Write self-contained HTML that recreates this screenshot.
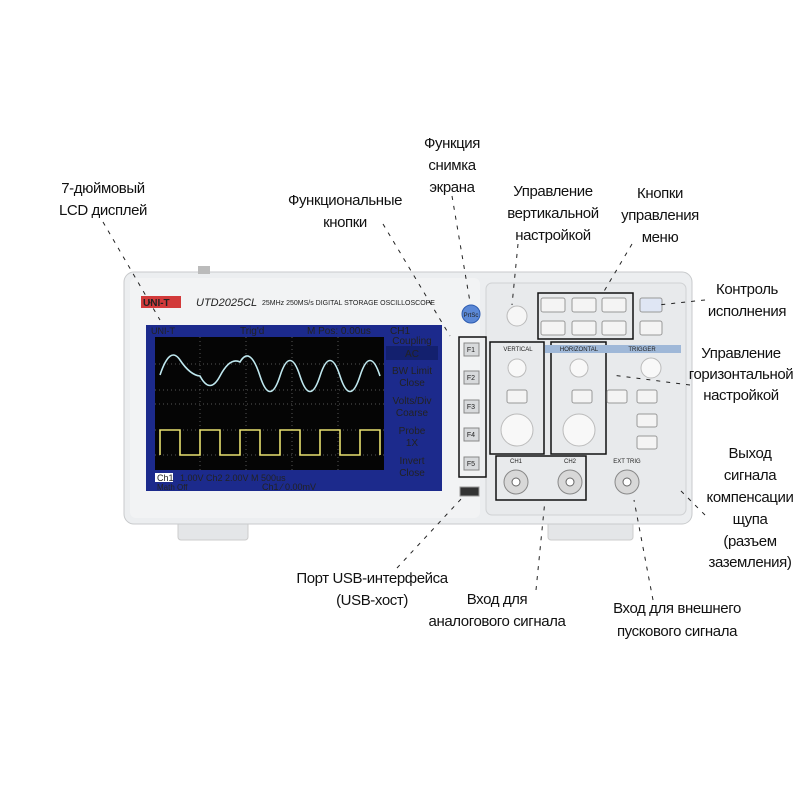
<!DOCTYPE html>
<html><head><meta charset="utf-8"><style>
html,body{margin:0;padding:0;background:#fff}
svg{display:block}
.l{font-family:"Liberation Sans Narrow","Liberation Sans",sans-serif;font-size:15px;letter-spacing:-0.4px;fill:#111;text-anchor:middle}
.s{font-family:"Liberation Sans",sans-serif;fill:#222}
</style></head><body>
<svg width="800" height="800" viewBox="0 0 800 800" xmlns="http://www.w3.org/2000/svg">
<rect x="178" y="518" width="70" height="22" rx="3" fill="#e4e6e8" stroke="#ccc"/>
<rect x="548" y="518" width="85" height="22" rx="3" fill="#e4e6e8" stroke="#ccc"/>
<rect x="124" y="272" width="568" height="252" rx="10" fill="#eceef0" stroke="#c8cacc"/>
<rect x="130" y="278" width="350" height="240" rx="6" fill="#f2f3f4"/>
<rect x="486" y="283" width="200" height="232" rx="6" fill="#e8eaec" stroke="#cfd1d3"/>
<rect x="198" y="266" width="12" height="8" fill="#bbb"/>
<rect x="141" y="296" width="40" height="12" fill="#d23a3a"/>
<text x="143" y="306" class="s" font-size="10" font-weight="bold" fill="#fff">UNI-T</text>
<text x="196" y="306" class="s" font-size="11" font-style="italic">UTD2025CL</text>
<text x="262" y="305" class="s" font-size="7">25MHz  250MS/s   DIGITAL STORAGE OSCILLOSCOPE</text>
<rect x="146" y="325" width="296" height="166" fill="#1c2a8c"/>
<rect x="155" y="337" width="229" height="133" fill="#050505"/>
<g stroke="#555" stroke-dasharray="1 3" stroke-width="1">
<line x1="155" y1="364" x2="384" y2="364"/><line x1="155" y1="390" x2="384" y2="390"/><line x1="155" y1="404" x2="384" y2="404"/><line x1="155" y1="430" x2="384" y2="430"/><line x1="155" y1="455" x2="384" y2="455"/>
<line x1="200" y1="337" x2="200" y2="470"/><line x1="246" y1="337" x2="246" y2="470"/><line x1="292" y1="337" x2="292" y2="470"/><line x1="338" y1="337" x2="338" y2="470"/>
</g>
<path d="M160,375 Q170,345 180,360 T200,376 Q210,395 220,376 T240,362 Q250,345 260,376 T280,376 Q290,345 300,376 T320,376 Q330,345 340,376 T360,376 Q370,345 380,376" fill="none" stroke="#bfe8ef" stroke-width="1.6"/>
<path d="M160,455 V430 H180 V455 H200 V430 H220 V455 H240 V430 H260 V455 H280 V430 H300 V455 H320 V430 H340 V455 H360 V430 H380 V455" fill="none" stroke="#e8e070" stroke-width="1.6"/>
<text x="151" y="334" class="s" font-size="9" fill="#e33">UNI-T</text>
<text x="240" y="334" class="s" font-size="10" fill="#ddd">Trig'd</text>
<text x="307" y="334" class="s" font-size="10" fill="#fff">M Pos: 0.00us</text>
<text x="390" y="334" class="s" font-size="10" fill="#fff">CH1</text>
<g font-size="10" class="s" fill="#fff" text-anchor="middle">
<rect x="386" y="346" width="52" height="14" fill="#13206e"/>
<text x="412" y="344">Coupling</text><text x="412" y="357">AC</text>
<text x="412" y="374">BW  Limit</text><text x="412" y="386">Close</text>
<text x="412" y="404">Volts/Div</text><text x="412" y="416">Coarse</text>
<text x="412" y="434">Probe</text><text x="412" y="446">1X</text>
<text x="412" y="464">Invert</text><text x="412" y="476">Close</text>
</g>
<rect x="155" y="473" width="18" height="9" fill="#fff"/>
<text x="157" y="481" class="s" font-size="9" fill="#1c2a8c">Ch1</text>
<text x="180" y="481" class="s" font-size="9" fill="#fff">1.00V   Ch2  2.00V    M 500us</text>
<text x="157" y="490" class="s" font-size="8" fill="#e33">Math  Off</text>
<text x="262" y="490" class="s" font-size="9" fill="#fff">Ch1  ⁄  0.00mV</text>
<circle cx="471" cy="314" r="9" fill="#5b88d6" stroke="#2e5cb0"/>
<text x="471" y="317" class="s" font-size="6" fill="#fff" text-anchor="middle">PrtSc</text>
<rect x="459" y="337" width="27" height="140" fill="none" stroke="#111" stroke-width="1.5"/>
<g class="s" font-size="7" text-anchor="middle">
<rect x="464" y="343" width="15" height="13" fill="#d8dadc" stroke="#888"/><text x="471" y="352">F1</text>
<rect x="464" y="371" width="15" height="13" fill="#d8dadc" stroke="#888"/><text x="471" y="380">F2</text>
<rect x="464" y="400" width="15" height="13" fill="#d8dadc" stroke="#888"/><text x="471" y="409">F3</text>
<rect x="464" y="428" width="15" height="13" fill="#d8dadc" stroke="#888"/><text x="471" y="437">F4</text>
<rect x="464" y="457" width="15" height="13" fill="#d8dadc" stroke="#888"/><text x="471" y="466">F5</text>
</g>
<rect x="460" y="487" width="19" height="9" fill="#333" stroke="#999"/>
<circle cx="517" cy="316" r="10" fill="#f6f6f6" stroke="#bbb"/>
<rect x="538" y="293" width="95" height="46" fill="none" stroke="#111" stroke-width="1.5"/>
<g fill="#f4f4f4" stroke="#999">
<rect x="541" y="298" width="24" height="14" rx="2"/><rect x="572" y="298" width="24" height="14" rx="2"/><rect x="602" y="298" width="24" height="14" rx="2"/>
<rect x="541" y="321" width="24" height="14" rx="2"/><rect x="572" y="321" width="24" height="14" rx="2"/><rect x="602" y="321" width="24" height="14" rx="2"/>
<rect x="640" y="298" width="22" height="14" rx="2" fill="#dfe6f4"/><rect x="640" y="321" width="22" height="14" rx="2"/>
</g>
<rect x="490" y="342" width="54" height="112" fill="none" stroke="#111" stroke-width="1.5"/>
<rect x="551" y="342" width="55" height="112" fill="none" stroke="#111" stroke-width="1.5"/>
<rect x="545" y="345" width="136" height="8" fill="#9fb8d8"/>
<text x="518" y="351" class="s" font-size="6" text-anchor="middle">VERTICAL</text>
<text x="579" y="351" class="s" font-size="6" text-anchor="middle">HORIZONTAL</text>
<text x="642" y="351" class="s" font-size="6" text-anchor="middle">TRIGGER</text>
<circle cx="517" cy="368" r="9" fill="#f8f8f8" stroke="#bbb"/>
<circle cx="579" cy="368" r="9" fill="#f8f8f8" stroke="#bbb"/>
<circle cx="651" cy="368" r="10" fill="#f8f8f8" stroke="#bbb"/>
<circle cx="517" cy="430" r="16" fill="#f8f8f8" stroke="#bbb"/>
<circle cx="579" cy="430" r="16" fill="#f8f8f8" stroke="#bbb"/>
<g fill="#f4f4f4" stroke="#999">
<rect x="507" y="390" width="20" height="13" rx="2"/><rect x="572" y="390" width="20" height="13" rx="2"/><rect x="607" y="390" width="20" height="13" rx="2"/><rect x="637" y="390" width="20" height="13" rx="2"/>
<rect x="637" y="414" width="20" height="13" rx="2"/><rect x="637" y="436" width="20" height="13" rx="2"/>
</g>
<rect x="496" y="456" width="90" height="44" fill="none" stroke="#111" stroke-width="1.5"/>
<text x="516" y="463" class="s" font-size="6" text-anchor="middle">CH1</text>
<text x="570" y="463" class="s" font-size="6" text-anchor="middle">CH2</text>
<text x="627" y="463" class="s" font-size="6" text-anchor="middle">EXT TRIG</text>
<g fill="#d8d8d8" stroke="#888">
<circle cx="516" cy="482" r="12"/><circle cx="570" cy="482" r="12"/><circle cx="627" cy="482" r="12"/>
</g>
<g fill="#fff" stroke="#666"><circle cx="516" cy="482" r="4"/><circle cx="570" cy="482" r="4"/><circle cx="627" cy="482" r="4"/></g>
<g stroke="#222" stroke-width="1" stroke-dasharray="4 6" fill="none">
<line x1="103" y1="222" x2="160" y2="320"/>
<line x1="383" y1="224" x2="450" y2="336"/>
<line x1="452" y1="196" x2="470" y2="302"/>
<line x1="518" y1="244" x2="512" y2="305"/>
<line x1="632" y1="244" x2="603" y2="293"/>
<line x1="705" y1="300" x2="658" y2="305"/>
<line x1="690" y1="385" x2="612" y2="375"/>
<line x1="705" y1="515" x2="680" y2="490"/>
<line x1="397" y1="568" x2="462" y2="498"/>
<line x1="536" y1="590" x2="545" y2="500"/>
<line x1="653" y1="600" x2="634" y2="500"/>
</g>
<g class="l">
<text x="103" y="193">7-дюймовый</text><text x="103" y="215">LCD дисплей</text>
<text x="345" y="205">Функциональные</text><text x="345" y="227">кнопки</text>
<text x="452" y="148">Функция</text><text x="452" y="170">снимка</text><text x="452" y="192">экрана</text>
<text x="553" y="196">Управление</text><text x="553" y="218">вертикальной</text><text x="553" y="240">настройкой</text>
<text x="660" y="198">Кнопки</text><text x="660" y="220">управления</text><text x="660" y="242">меню</text>
<text x="747" y="294">Контроль</text><text x="747" y="316">исполнения</text>
<text x="741" y="358">Управление</text><text x="741" y="379">горизонтальной</text><text x="741" y="400">настройкой</text>
<text x="750" y="458">Выход</text><text x="750" y="480">сигнала</text><text x="750" y="502">компенсации</text><text x="750" y="524">щупа</text><text x="750" y="546">(разъем</text><text x="750" y="567">заземления)</text>
<text x="372" y="583">Порт USB-интерфейса</text><text x="372" y="605">(USB-хост)</text>
<text x="497" y="604">Вход для</text><text x="497" y="626">аналогового сигнала</text>
<text x="677" y="613">Вход для внешнего</text><text x="677" y="636">пускового сигнала</text>
</g>
</svg>
</body></html>
